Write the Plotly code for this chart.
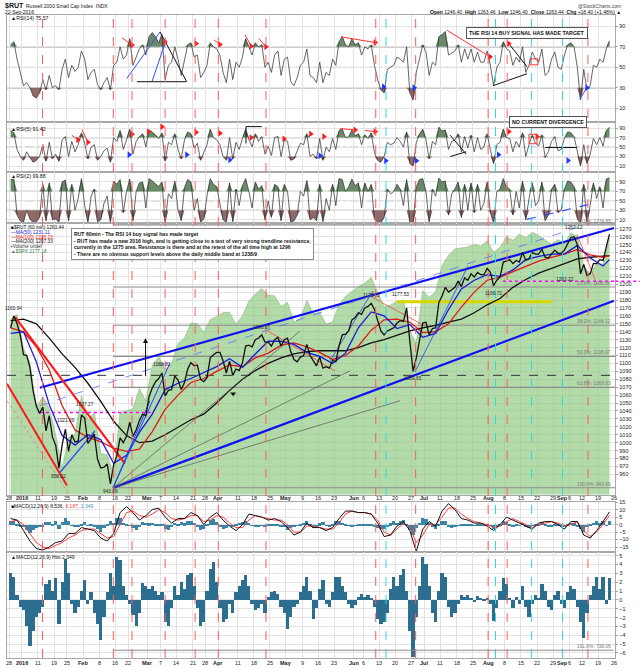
import plotly.graph_objects as go

W, H = 640, 668

# ---------------- data (x = trading-day index from 28-Dec-2015) ----------------
tick_days = [0, 4, 9, 14, 18, 23, 28, 33, 37, 43, 47, 52, 57, 61, 65, 71, 76, 81, 86, 91, 96, 101,
             107, 110, 115, 120, 125, 129, 134, 139, 144, 149, 154, 159, 164, 169, 172, 174, 178, 183, 188]
tick_labels = ["28", "2016", "11", "19", "25", "Feb", "8", "16", "22", "Mar", "7", "14", "21", "28",
               "Apr", "11", "18", "25", "May", "9", "16", "23", "Jun", "6", "13", "20", "27", "Jul",
               "11", "18", "25", "Aug", "8", "15", "22", "29", "Sep", "6", "12", "19", "26"]
bold_labels = {"2016", "Feb", "Mar", "Apr", "May", "Jun", "Jul", "Aug", "Sep"}

rut_close = [1145, 1160, 1150, 1136, 1111, 1110, 1095, 1065, 1046, 1037,
             1045, 1015, 1034, 1007, 997, 968, 997, 1017, 989, 1010,
             1001, 1002, 1035, 1031, 999, 1005, 1011, 979, 968, 969,
             973, 948, 972, 983, 1006, 1000, 1008, 1026, 1008, 1016,
             1028, 1036, 1034, 1058, 1069, 1077, 1081, 1088, 1059, 1066,
             1067, 1084, 1079, 1067, 1076, 1093, 1101, 1097, 1098, 1080,
             1077, 1082, 1107, 1111, 1114, 1114, 1103, 1088, 1103, 1085,
             1093, 1091, 1101, 1122, 1123, 1121, 1130, 1132, 1136, 1127,
             1127, 1122, 1130, 1133, 1122, 1130, 1132, 1115, 1105, 1102,
             1108, 1110, 1124, 1110, 1104, 1097, 1108, 1094, 1096, 1094,
             1104, 1102, 1122, 1136, 1137, 1141, 1155, 1158, 1164, 1162,
             1170, 1172, 1176, 1168, 1154, 1141, 1136, 1141, 1143, 1145,
             1151, 1154, 1153, 1170, 1127, 1090, 1107, 1130, 1151, 1152,
             1136, 1144, 1145, 1177, 1185, 1196, 1190, 1193, 1196, 1204,
             1197, 1208, 1205, 1213, 1209, 1215, 1212, 1212, 1220, 1215,
             1198, 1205, 1209, 1228, 1229, 1231, 1226, 1230, 1228, 1240,
             1230, 1232, 1240, 1238, 1238, 1244, 1234, 1233, 1238, 1243,
             1239, 1239, 1243, 1252, 1259, 1260, 1250, 1213, 1225, 1211,
             1213, 1226, 1226, 1231, 1230, 1247, 1263]

# $SPX overlay, every second trading day
spx_close = [2056, 2063, 2012, 1990, 1922, 1939, 1921, 1881, 1830, 1877,
             1882, 1940, 1903, 1915, 1853, 1851, 1820, 1915, 1917, 1921,
             1951, 1932, 1986, 1999, 1979, 1989, 2019, 2027, 2050, 2049,
             2036, 2055, 2060, 2066, 2066, 2048, 2061, 2083, 2094, 2102,
             2092, 2091, 2075, 2081, 2051, 2057, 2084, 2064, 2066, 2048,
             2052, 2077, 2090, 2097, 2105, 2110, 2119, 2096, 2075, 2077,
             2083, 2085, 2037, 2020, 2099, 2089, 2097, 2137, 2152, 2162,
             2163, 2165, 2169, 2166, 2174, 2157, 2164, 2180, 2175, 2184,
             2179, 2187, 2182, 2175, 2169, 2176, 2170, 2186, 2181, 2135,
             2125, 2139, 2139, 2177]

ma_days = [0, 4, 8, 12, 16, 20, 24, 28, 32, 36, 40, 44, 48, 52, 56, 60, 64, 68, 72, 76, 80, 84, 88, 92,
           96, 100, 104, 108, 112, 116, 120, 124, 128, 132, 136, 140, 144, 148, 152, 156, 160, 164, 168,
           172, 176, 180, 184, 186]
ma50 = [1138, 1140, 1102, 1048, 1009, 997, 1010, 1004, 974, 984, 1013, 1036, 1067, 1075, 1081, 1089,
        1096, 1106, 1095, 1112, 1128, 1128, 1124, 1114, 1109, 1100, 1113, 1145, 1165, 1160, 1144, 1149,
        1133, 1138, 1168, 1194, 1205, 1212, 1210, 1218, 1231, 1235, 1238, 1238, 1249, 1233, 1223, 1231]
ma100 = [1145, 1140, 1121, 1092, 1047, 1016, 1007, 1001, 993, 989, 992, 1014, 1042, 1060, 1076, 1081,
         1090, 1098, 1096, 1107, 1113, 1123, 1126, 1121, 1114, 1105, 1110, 1122, 1142, 1155, 1156, 1152,
         1139, 1140, 1150, 1171, 1190, 1205, 1209, 1216, 1222, 1229, 1234, 1238, 1244, 1237, 1234, 1236]
ma200 = [1154, 1156, 1150, 1132, 1112, 1095, 1075, 1052, 1027, 1009, 1000, 1002, 1010, 1019, 1029, 1036,
         1050, 1066, 1080, 1091, 1100, 1107, 1112, 1115, 1116, 1116, 1116, 1120, 1126, 1130, 1135, 1141,
         1145, 1148, 1152, 1156, 1164, 1174, 1182, 1196, 1206, 1214, 1220, 1226, 1232, 1234, 1235, 1236]

rsi14 = [72, 75, 58, 45, 32, 35, 30, 22, 20, 25,
         38, 28, 42, 30, 32, 28, 48, 58, 40, 52,
         46, 50, 66, 58, 38, 45, 48, 33, 28, 35,
         40, 28, 52, 55, 70, 58, 62, 78, 52, 60,
         68, 72, 62, 80, 84, 80, 74, 82, 38, 52,
         55, 70, 58, 42, 58, 72, 74, 60, 62, 40,
         45, 52, 74, 70, 68, 62, 45, 35, 58, 38,
         55, 50, 60, 78, 70, 62, 74, 70, 72, 50,
         55, 45, 62, 66, 42, 58, 60, 36, 32, 40,
         52, 55, 68, 42, 40, 35, 55, 35, 45, 42,
         58, 52, 75, 80, 72, 70, 78, 72, 74, 62,
         70, 68, 72, 52, 38, 28, 25, 48, 50, 52,
         60, 58, 55, 70, 25, 18, 45, 60, 72, 65,
         42, 55, 52, 80, 82, 85, 62, 64, 66, 72,
         55, 68, 58, 68, 55, 65, 55, 55, 66, 52,
         32, 50, 55, 75, 68, 66, 52, 60, 55, 70,
         45, 52, 65, 58, 55, 68, 42, 45, 58, 65,
         50, 48, 62, 72, 74, 70, 50, 18, 48, 28,
         32, 52, 50, 58, 55, 68, 76]

rsi5 = [85, 80, 45, 30, 22, 40, 28, 18, 22, 30,
        55, 20, 60, 25, 35, 20, 65, 72, 30, 62,
        40, 55, 80, 58, 25, 50, 55, 22, 30, 42,
        48, 18, 70, 62, 85, 45, 65, 88, 35, 62,
        72, 78, 50, 86, 82, 75, 68, 80, 20, 60,
        55, 78, 45, 25, 65, 82, 78, 48, 58, 22,
        40, 55, 88, 70, 65, 55, 30, 22, 70, 25,
        60, 45, 68, 88, 66, 50, 78, 62, 72, 35,
        52, 32, 70, 72, 30, 65, 62, 22, 25, 40,
        58, 55, 78, 30, 35, 25, 68, 22, 50, 40,
        68, 45, 85, 88, 70, 72, 86, 74, 78, 55,
        76, 68, 80, 38, 22, 18, 30, 60, 55, 58,
        70, 62, 50, 82, 15, 10, 60, 78, 88, 65,
        25, 62, 55, 92, 84, 86, 45, 62, 65, 78,
        40, 72, 48, 75, 40, 70, 45, 50, 78, 45,
        15, 55, 60, 88, 70, 68, 40, 62, 50, 80,
        30, 55, 75, 58, 52, 76, 28, 40, 62, 72,
        42, 45, 68, 82, 80, 72, 38, 10, 55, 15,
        35, 68, 55, 70, 52, 85, 92]

rsi2 = [95, 96, 20, 8, 5, 30, 12, 4, 6, 15,
        85, 8, 88, 10, 12, 5, 90, 94, 8, 85,
        30, 55, 97, 40, 5, 60, 75, 6, 10, 45,
        60, 4, 92, 85, 95, 25, 70, 96, 8, 70,
        88, 90, 35, 97, 92, 85, 80, 90, 3, 65,
        55, 92, 30, 8, 78, 95, 90, 30, 55, 5,
        12, 60, 97, 85, 80, 45, 10, 5, 88, 6,
        75, 40, 82, 97, 70, 35, 90, 75, 82, 10,
        50, 15, 85, 80, 8, 85, 70, 5, 8, 20,
        70, 60, 93, 10, 15, 8, 85, 6, 55, 30,
        85, 40, 97, 95, 70, 80, 96, 82, 88, 35,
        88, 70, 85, 12, 5, 4, 15, 75, 65, 70,
        85, 75, 40, 95, 3, 2, 80, 95, 97, 70,
        5, 75, 60, 98, 90, 92, 20, 65, 75, 90,
        15, 85, 30, 88, 25, 85, 30, 45, 90, 25,
        3, 70, 75, 97, 80, 75, 20, 70, 35, 92,
        10, 55, 88, 40, 50, 90, 8, 20, 75, 85,
        25, 30, 75, 92, 90, 80, 12, 2, 85, 5,
        40, 88, 55, 80, 35, 96, 99]

# MACD line / signal, every second trading day
macd_line = [4, 3, -4, -11, -16, -17, -15, -12, -11, -6,
             -6, -2, -3, -4, -9, -11, -6, 8, 12, 8,
             3, 6, 10, 11, 5, 1, 4, 4, 8, 6,
             0, 5, 8, 3, -1, -4, 0, 7, 6, 5,
             3, 4, 2, -2, -7, -5, 1, -2, -2, -4,
             -2, 4, 9, 9, 8, 8, 7, 1, -8, -7,
             -1, 2, -4, -18, -3, 2, -1, 9, 14, 10,
             4, 3, 1, 1, -1, -4, 0, 5, 3, 1,
             -1, -3, 1, 2, 2, 0, -3, 2, 2, -7,
             -9, -4, 2, 8.5]
macd_signal = [2, 3, 0, -6, -12, -15, -16, -14, -12, -9,
               -7, -4, -3, -3, -6, -9, -8, 0, 8, 9,
               6, 5, 7, 10, 8, 4, 3, 4, 6, 6,
               2, 3, 6, 5, 1, -2, -2, 3, 6, 5,
               4, 3, 3, 0, -5, -5, -1, -1, -2, -3,
               -3, 1, 7, 9, 8, 8, 7, 3, -5, -7,
               -3, 1, -2, -12, -7, 0, 0, 5, 11, 11,
               7, 4, 2, 1, 0, -2, -1, 2, 4, 2,
               0, -2, 0, 1, 2, 1, -1, 0, 2, -4,
               -8, -5, 0, 6.2]
macd_hist = [3.0, 2.5, 0.5, -0.8, -1.2, -3.0, -5.3, -3.5, -2.0, -1.5,
             -0.8, 1.8, 2.2, 1.0, 2.4, -2.8, 2.0, 4.6, 3.0, -0.5,
             -1.5, -0.8, 1.0, 2.2, -0.5, 0.8, -1.5, -2.8, -4.6, -2.0,
             0.8, 3.0, 1.5, 4.8, 4.5, 1.5, 0.5, -0.5, -1.8, -3.0,
             -1.5, 1.9, 1.5, 1.2, 1.5, 1.0, 0.5, 0.8, -2.5, -3.0,
             -1.0, 1.5, 0.5, 2.0, 1.2, 2.8, 3.0, 1.5, -1.0, -3.0,
             -2.5, 1.0, 3.5, 4.2, 2.0, -1.0, -2.5, -2.2, -0.5, -1.5,
             0.8, 1.5, 2.2, 2.8, 1.5, -0.5, -1.2, -1.0, -0.5, -1.5,
             0.3, 0.8, 1.0, 0.6, -0.8, -1.5, -3.3, -2.0, -0.8, -0.5,
             0.8, 1.5, 2.5, 1.0, -2.2, -1.0, 1.2, 2.2, -0.5, -0.8,
             0.8, 2.6, 2.5, 1.5, 0.8, -0.5, -1.0, -0.6, 0.3, 0.6,
             0.3, 0.5, 0.2, -0.8, -2.2, -2.8, -2.5, -1.5, 1.2, 2.5,
             1.5, 2.8, 3.5, 1.0, -3.5, -6.5, -2.0, 1.5, 4.8, 4.0,
             1.5, -1.5, -2.5, 1.0, 3.0, 2.5, -0.8, -2.0, -1.5, -0.5,
             0.5, 0.3, 0.5, 0.2, -0.3, 0.4, 0.2, -0.2, 0.1, -0.5,
             -2.4, -1.0, 1.0, 2.4, 1.8, 0.2, -1.0, 0.3, -0.5, 1.5,
             -0.8, -2.0, -0.5, 0.5, 0.2, 1.8, 1.0, -0.8, -1.2, 0.5,
             1.0, -0.5, -1.0, 0.8, 1.5, 1.2, -0.8, -2.5, -4.4, -1.5,
             0.5, 1.5, 2.5, 1.2, 2.5, -0.5, 2.4]

red_vlines = [10.4, 32.4, 38.2, 48.5, 57.8, 65.0, 79.8, 113.9, 126.3, 148.8, 154.7, 179.8]
cyan_vlines = [117.1, 151.1, 162.3, 171.9]

fib_names = ["0.0%", "23.6%", "38.2%", "50.0%", "61.8%", "100.0%", "161.8%"]
fib_levels = [1274.85, 1196.56, 1148.12, 1108.97, 1069.83, 943.09, 738.06]
fib_start_day = 32.3

# chartist trendlines on the price panel: (day0, price0, day1, price1, colour, width, dash)
main_lines = [
    (9.6, 1069.3, 187.9, 1270.9, "#1010f0", 2.2, "solid"),
    (32.3, 943.0, 187.9, 1179.0, "#1010f0", 2.2, "solid"),
    (9.6, 1046.8, 180.4, 1276.8, "#5570ff", 0.8, "dash"),
    (1.9, 1158.5, 36.0, 973.6, "#ff1a1a", 2.2, "solid"),
    (-0.6, 1074.3, 18.0, 946.0, "#ff1a1a", 2.0, "solid"),
    (-0.6, 1052.9, 18.9, 933.4, "#ff7070", 0.8, "dot"),
    (15.8, 962.3, 26.7, 1015.0, "#2040ff", 1.3, "solid"),
    (32.3, 943.0, 50.0, 1100.7, "#2040ff", 1.0, "solid"),
    (32.3, 943.0, 43.8, 1052.9, "#2040ff", 1.0, "solid"),
    (32.3, 943.0, 90.4, 1140.9, "#555555", 0.7, "solid"),
    (32.3, 943.0, 105.9, 1090.7, "#555555", 0.7, "solid"),
    (32.3, 943.0, 121.4, 1052.9, "#555555", 0.7, "solid"),
    (80.4, 1140.9, 101.2, 1090.7, "#ff4040", 0.8, "solid"),
    (112.7, 1183.7, 129.2, 1147.2, "#ff4040", 0.8, "solid"),
    (176.4, 1262.9, 182.6, 1200.0, "#ff4040", 0.8, "solid"),
    (126.1, 1089.3, 142.5, 1222.6, "#2040ff", 0.8, "solid"),
    (99.7, 1103.3, 113.0, 1191.3, "#2040ff", 0.8, "solid"),
]
# horizontal levels: (day0, day1, price, colour, width, dash)
main_levels = [
    (-0.6, 187.9, 1085.0, "#333333", 1.0, "dash"),
    (9.6, 44.4, 1038.2, "#ff00ff", 1.5, "dot"),
    (120.5, 168.6, 1177.8, "#d8d800", 3.0, "solid"),
]
magenta_level_sep = (153.4, 1203.8)

price_labels = [  # (day, price, text, position)
    (1.5, 1160.9, "1160.94", "above"), (15.5, 965, "958.02", "below"), (17.8, 1020, "1021.09", "above"),
    (23.5, 1040, "1037.27", "above"), (31.5, 946, "943.09", "below"), (47.5, 1090, "1088.31", "above"),
    (78.5, 1137, "1136.87", "above"), (112.5, 1178, "1178.72", "above"), (125.5, 1089, "1089.65", "below"),
    (121.5, 1179, "1177.53", "above"), (150.5, 1197, "1199.72", "below"), (175.5, 1263, "1263.12", "above"),
    (176.0, 1206, "1203.22", "left"),
]

rsi14_red_marks = [(38.2, 71.7), (48.4, 74.9), (58.1, 73.2), (65.5, 72.2), (75.2, 70.7), (79.8, 70),
                   (113.7, 74.2), (149.4, 60.2), (155.2, 73.2)]
rsi14_blue_marks = [(116.3, 31), (125.8, 30), (179.5, 30)]
rsi14_segments = [
    (35.1, 78.8, 38.2, 71.7, "#ff3030"), (36.6, 39.1, 46.9, 84.6, "#3050ff"),
    (44.4, 35.9, 48.8, 76.8, "#3050ff"), (46.9, 84.6, 55.2, 35.9, "#111111"),
    (39.7, 35.9, 55.0, 35.9, "#111111"), (63.7, 76.8, 65.5, 72.2, "#ff3030"),
    (73.3, 81.7, 75.2, 71.0, "#ff3030"), (77.6, 78.1, 79.8, 70.0, "#ff3030"),
    (103.1, 79.8, 113.7, 74.2, "#ff3030"), (136.0, 86.3, 149.4, 60.2, "#ff3030"),
    (155.2, 73.2, 160.9, 50.5, "#111111"), (150.3, 32.0, 160.9, 43.7, "#111111"),
    (177.3, 19.3, 179.5, 30.0, "#3050ff"),
]
rsi5_red_marks = [(21.4, 65.2), (24.5, 60.1), (38.2, 76.9), (43.3, 82.6), (47.5, 93), (58.1, 81.2),
                  (65.5, 79), (75.2, 70), (85.4, 67.3), (93.7, 77.8), (97.8, 72.1), (107.5, 86.2),
                  (113.7, 82.6), (155.2, 82.6), (164, 72.1)]
rsi5_blue_marks = [(37.3, 33.6), (55.2, 33.6), (68.6, 23), (96.6, 31.5), (117, 21), (126.5, 21),
                   (152, 33.6), (173.6, 21.6)]
rsi5_segments = [
    (22.7, 86.8, 24.5, 60.1, "#ff3030"), (19.5, 75, 21.4, 65.2, "#ff3030"),
    (102.8, 88.9, 107.5, 86.2, "#ff3030"), (110.5, 85, 113.7, 82.6, "#ff3030"),
    (73.6, 93.2, 78.5, 93.2, "#111111"), (73.6, 93.2, 73.6, 57.4, "#111111"),
    (166.5, 49, 176.4, 49, "#111111"), (137, 75, 142, 35, "#111111"), (137, 30, 142, 40, "#111111"),
]
rsi2_segments = [(160.9, 11, 181.4, 44.7, "#3050ff")]

# ---------------- geometry (pixels of the 640x668 page) ----------------
X0, X1 = 7, 615.3
XR = [-0.62, 188.3]


def py(v):
    return 1 - v / H


def dom(top, bot):
    return [py(bot), py(top)]


P_TOP, P_BOT = 222, 494
PR = [934.6, 1276.8]
SPXR = [1790.9, 2200.6]
panels = {
    1: dict(d=dom(12.7, 120.7), r=[-3.85, 101.5], tv=[10, 30, 50, 70, 90]),
    2: dict(d=dom(120.7, 170.7), r=[-3.05, 102.2], tv=[10, 30, 50, 70, 90]),
    3: dict(d=dom(170.7, 222), r=[2.6, 110.6], tv=[10, 30, 50, 70, 90]),
    4: dict(d=dom(P_TOP, P_BOT), r=SPXR, tv=[]),
    5: dict(d=dom(501, 551.5), r=[-18.2, 15.4], tv=[-15, -10, -5, 0, 5, 10, 15]),
    6: dict(d=dom(552, 658), r=[-6.57, 5.37], tv=[-6, -5, -4, -3, -2, -1, 0, 1, 2, 3, 4, 5]),
}
DATE_ROWS = (497.5, 663.0)   # pixel rows of the two date-label lines

GRID = "#e3e3e3"
FRAME = "#a8a8a8"
FONT = "Liberation Sans, Arial, sans-serif"


def xa(i):
    return "x" if i == 1 else f"x{i}"


def ya(i):
    return "y" if i == 1 else f"y{i}"


fig = go.Figure()


def add_line(xs, ys, color, width, ax, yax=None, dash="solid", **kw):
    fig.add_trace(go.Scatter(x=xs, y=ys, mode="lines", line=dict(color=color, width=width, dash=dash),
                             xaxis=xa(ax), yaxis=yax or ya(ax), hoverinfo="skip", **kw))


# ---------------- RSI panels ----------------
for ax, vals in ((1, rsi14), (2, rsi5), (3, rsi2)):
    xs = [i + 0.5 for i in range(len(vals))]
    add_line(xs, [70] * len(xs), "rgba(0,0,0,0)", 0, ax)
    add_line(xs, [max(v, 70) for v in vals], "rgba(0,0,0,0)", 0, ax, fill="tonexty",
             fillcolor="rgba(92,128,92,0.92)")
    add_line(xs, [30] * len(xs), "rgba(0,0,0,0)", 0, ax)
    add_line(xs, [min(v, 30) for v in vals], "rgba(0,0,0,0)", 0, ax, fill="tonexty",
             fillcolor="rgba(135,92,92,0.92)")
    add_line(xs, vals, "#333333", 0.75, ax)

for ax, segs in ((1, rsi14_segments), (2, rsi5_segments), (3, rsi2_segments)):
    for d0, v0, d1, v1, c in segs:
        add_line([d0, d1], [v0, v1], c, 1.0 if ax != 3 else 1.2, ax, dash="solid" if ax != 3 else "dash")

for ax, reds, blues in ((1, rsi14_red_marks, rsi14_blue_marks), (2, rsi5_red_marks, rsi5_blue_marks)):
    fig.add_trace(go.Scatter(x=[m[0] for m in reds], y=[m[1] for m in reds], mode="markers",
                             marker=dict(symbol="triangle-right", size=6, color="#ff1a1a"),
                             xaxis=xa(ax), yaxis=ya(ax), hoverinfo="skip"))
    fig.add_trace(go.Scatter(x=[m[0] for m in blues], y=[m[1] for m in blues], mode="markers",
                             marker=dict(symbol="triangle-right", size=6, color="#1a3aff"),
                             xaxis=xa(ax), yaxis=ya(ax), hoverinfo="skip"))

# ---------------- price panel ----------------
spx_x = [2 * i + 0.5 for i in range(len(spx_close))]
fig.add_trace(go.Scatter(x=spx_x, y=spx_close, mode="lines", fill="tozeroy",
                         line=dict(color="rgba(120,180,110,0.9)", width=0.6),
                         fillcolor="rgba(140,200,126,0.66)", xaxis="x4", yaxis="y4", hoverinfo="skip"))

for d0, d1, p, c, w, dash in main_levels:
    add_line([d0, d1], [p, p], c, w, 4, yax="y7", dash=dash)
for name, lvl in zip(fib_names, fib_levels):
    if PR[0] <= lvl <= PR[1]:
        add_line([fib_start_day, XR[1]], [lvl, lvl], "#8c8c8c", 1.1, 4, yax="y7")

ma_x = [d + 0.5 for d in ma_days]
add_line(ma_x, ma200, "#111111", 1.3, 4, yax="y7")
add_line(ma_x, ma100, "#e01818", 1.3, 4, yax="y7")
add_line(ma_x, ma50, "#1818d8", 1.3, 4, yax="y7")

for d0, p0, d1, p1, c, w, dash in main_lines:
    add_line([d0, d1], [p0, p1], c, w, 4, yax="y7", dash=dash)

px_x = [i + 0.5 for i in range(len(rut_close))]
add_line(px_x, rut_close, "#111111", 1.3, 4, yax="y7")

fig.add_trace(go.Scatter(x=[69.6], y=[1061.8], mode="markers",
                         marker=dict(symbol="triangle-down", size=5, color="#111"),
                         xaxis="x4", yaxis="y7", hoverinfo="skip"))

# ---------------- MACD panels ----------------
hx = [i + 0.5 for i in range(len(macd_hist))]
fig.add_trace(go.Bar(x=hx, y=macd_hist, width=1.0, marker=dict(color="#3a84a6", line=dict(width=0)),
                     xaxis="x5", yaxis="y5", hoverinfo="skip"))
mx = [2 * i + 0.5 for i in range(len(macd_line))]
add_line(mx, macd_signal, "#ff3b3b", 1.0, 5)
add_line(mx, macd_line, "#111111", 1.0, 5)
fig.add_trace(go.Bar(x=hx, y=macd_hist, width=1.0, marker=dict(color="#2c6e8f", line=dict(width=0)),
                     xaxis="x6", yaxis="y6", hoverinfo="skip"))

# ---------------- axes ----------------
layout = {}
for i, pnl in panels.items():
    layout["xaxis" if i == 1 else f"xaxis{i}"] = dict(
        domain=[X0 / W, X1 / W], range=XR, anchor=ya(i), tickvals=tick_days, ticktext=tick_labels,
        showticklabels=False, showgrid=True, gridcolor=GRID, gridwidth=0.7, showline=True,
        linecolor=FRAME, linewidth=0.8, mirror=True, zeroline=False, ticks="", fixedrange=True)
    if i == 4:
        layout["yaxis4"] = dict(domain=pnl["d"], range=pnl["r"], visible=False, anchor="x4", fixedrange=True)
    else:
        layout["yaxis" if i == 1 else f"yaxis{i}"] = dict(
            domain=pnl["d"], range=pnl["r"], anchor=xa(i), side="right", tickvals=pnl["tv"],
            showgrid=True, gridcolor=GRID, gridwidth=0.7, showline=True, linecolor=FRAME, linewidth=0.8,
            mirror=True, zeroline=False, ticks="outside", ticklen=2, tickcolor=FRAME,
            tickfont=dict(size=5.5, color="#222", family=FONT), fixedrange=True)
layout["yaxis7"] = dict(
    overlaying="y4", anchor="x4", side="right", range=PR, tickvals=list(range(960, 1271, 10)),
    showgrid=True, gridcolor=GRID, gridwidth=0.7, showline=True, linecolor=FRAME, linewidth=0.8,
    mirror=True, zeroline=False, ticks="outside", ticklen=2, tickcolor=FRAME,
    tickfont=dict(size=5.5, color="#222", family=FONT), fixedrange=True)

# ---------------- shapes ----------------
shapes = []
for ax in (1, 2, 3):
    xr = f"{xa(ax)} domain"
    for lvl, col, w, dash in ((70, "#9a9a9a", 1.3, "solid"), (30, "#9a9a9a", 1.3, "solid"),
                              (50, "#9a9a9a", 0.8, "dashdot")):
        shapes.append(dict(type="line", xref=xr, yref=ya(ax), x0=0, x1=1, y0=lvl, y1=lvl,
                           line=dict(color=col, width=w, dash=dash), layer="below"))
shapes.append(dict(type="line", xref="x5 domain", yref="y5", x0=0, x1=1, y0=0, y1=0,
                   line=dict(color="#9a9a9a", width=0.8), layer="below"))
for d in red_vlines:
    shapes.append(dict(type="line", xref="x", yref="paper", x0=d, x1=d, y0=py(658), y1=py(12.7),
                       line=dict(color="#ff5a5a", width=1, dash="dash")))
for d in cyan_vlines:
    shapes.append(dict(type="line", xref="x", yref="paper", x0=d, x1=d, y0=py(658), y1=py(12.7),
                       line=dict(color="#30d8e0", width=1, dash="dash")))
shapes.append(dict(type="line", xref="x4", yref="y7", x0=magenta_level_sep[0], x1=XR[1],
                   y0=magenta_level_sep[1], y1=magenta_level_sep[1],
                   line=dict(color="#ff00ff", width=1.5, dash="dot")))
shapes.append(dict(type="line", xref="paper", yref="y7", x0=X1 / W, x1=1.0,
                   y0=magenta_level_sep[1], y1=magenta_level_sep[1],
                   line=dict(color="#ff00ff", width=1.5, dash="dot")))
# red boxes on RSI panels
shapes.append(dict(type="rect", xref="x", yref="y", x0=161.8, x1=164.3, y0=52.4, y1=58.3,
                   line=dict(color="#ff3030", width=1)))
shapes.append(dict(type="rect", xref="x2", yref="y2", x0=161.5, x1=164.0, y0=57, y1=77,
                   line=dict(color="#ff3030", width=1)))

# Fib extension that lands below the price panel (161.8%)
main_d = panels[4]["d"]


def price_to_paper(p):
    return main_d[0] + (p - PR[0]) / (PR[1] - PR[0]) * (main_d[1] - main_d[0])


for name, lvl in zip(fib_names, fib_levels):
    if lvl < PR[0]:
        shapes.append(dict(type="line", xref="x6", yref="paper", x0=fib_start_day, x1=XR[1] - 0.6,
                           y0=price_to_paper(lvl), y1=price_to_paper(lvl),
                           line=dict(color="#8c8c8c", width=1.1)))

# ---------------- annotations ----------------
ann = []


def A(text, x, y, size=5.5, color="#111", xanchor="left", yanchor="middle", **kw):
    ann.append(dict(text=text, x=x / W, y=py(y), xref="paper", yref="paper", showarrow=False,
                    xanchor=xanchor, yanchor=yanchor, font=dict(size=size, color=color, family=FONT), **kw))


# date labels under the price panel and under the histogram panel
for row, xref in zip(DATE_ROWS, ("x4", "x6")):
    for d, t in zip(tick_days, tick_labels):
        ann.append(dict(text=f"<b>{t}</b>" if t in bold_labels else t, x=d, y=py(row), xref=xref,
                        yref="paper", showarrow=False, xanchor="center", yanchor="middle", borderpad=0,
                        font=dict(size=5.5, color="#222", family=FONT)))

A("<b>$RUT</b>", 3, 4.5, size=7)
A("Russell 2000 Small Cap Index  INDX", 24, 4.5, size=5)
A("22-Sep-2016", 3, 10.5, size=5)
A("@StockCharts.com", 623, 4.5, size=5, xanchor="right", color="#444")
A("<b>Open</b> 1246.40  <b>High</b> 1263.46  <b>Low</b> 1246.40  <b>Close</b> 1263.44  "
  "<b>Chg</b> +18.40 (+1.48%) ▲", 623, 10.5, size=5, xanchor="right")
A("▲RSI(14) 75.57", 9, 16, size=5.2)
A("▲RSI(5) 91.42", 9, 127, size=5.2)
A("▲RSI(2) 99.88", 9, 175, size=5.2)
A("■$RUT (60 min) 1263.44", 9, 226.5, size=4.8)
A("—MA(50) 1231.11", 9, 231.3, size=4.8, color="#1818d8")
A("—MA(100) 1226.23", 9, 236, size=4.8, color="#e01818")
A("—MA(200) 1207.33", 9, 240.7, size=4.8, color="#111")
A("▪Volume undef", 9, 245.4, size=4.8, color="#333")
A("▲$SPX 2177.18", 9, 250.1, size=4.8, color="#3a7a3a")
A("■MACD(12,26,9) 8.536, <span style='color:#ff3b3b'>6.187</span>, "
  "<span style='color:#3a9ac6'>2.349</span>", 9, 505.5, size=5)
A("▲MACD(12,26,9) Hist 2.349", 9, 556.5, size=5)

A("<b>RUT 60min - The RSI 14 buy signal has made target<br>"
  "- RUT has made a new 2016 high, and is getting close to a test of very strong trendline resistance,<br>"
  "currently in the 1275 area. Resistance is there and at the retest of the all time high at 1296<br>"
  "- There are no obvious support levels above the daily middle band at 1238/9</b>",
  71, 227, size=5.1, yanchor="top", align="left", bgcolor="white", bordercolor="#8a8a8a",
  borderwidth=1, borderpad=2)
A("<b>THE RSI 14 BUY SIGNAL HAS MADE TARGET</b>", 527, 31.5, size=5.3, xanchor="center",
  bgcolor="white", bordercolor="#555", borderwidth=1, borderpad=2)
A("<b>NO CURRENT DIVERGENCE</b>", 547.5, 120, size=5.3, xanchor="center",
  bgcolor="white", bordercolor="#555", borderwidth=1, borderpad=2)

for name, lvl in zip(fib_names, fib_levels):
    txt = f"{name}: {lvl:.2f}"
    if lvl >= PR[0]:
        ann.append(dict(text=txt, x=187.6, y=lvl, xref="x4", yref="y7", showarrow=False, xanchor="right",
                        yanchor="bottom", yshift=-1, font=dict(size=4.8, color="#777", family=FONT)))
    else:
        ann.append(dict(text=txt, x=187.6, y=price_to_paper(lvl), xref="x6", yref="paper", showarrow=False,
                        xanchor="right", yanchor="bottom", yshift=-1,
                        font=dict(size=4.8, color="#777", family=FONT)))

for d, p, txt, pos in price_labels:
    if pos == "left":
        ann.append(dict(text=txt, x=d, y=p, xref="x4", yref="y7", showarrow=False, xanchor="right",
                        yanchor="middle", font=dict(size=4.8, color="#222", family=FONT)))
    else:
        above = pos == "above"
        ann.append(dict(text=txt, x=d, y=p, xref="x4", yref="y7", showarrow=False, xanchor="center",
                        yanchor="bottom" if above else "top", yshift=2 if above else -2,
                        font=dict(size=4.8, color="#222", family=FONT)))

ann.append(dict(text="", x=42.4, y=1132, ax=42.4, ay=1082, xref="x4", yref="y7", axref="x4", ayref="y7",
                showarrow=True, arrowhead=2, arrowsize=1, arrowwidth=1, arrowcolor="#111"))

fig.update_layout(
    width=W, height=H, margin=dict(l=0, r=0, t=0, b=0), paper_bgcolor="white", plot_bgcolor="white",
    showlegend=False, font=dict(family=FONT, size=6, color="#222"), bargap=0,
    shapes=shapes, annotations=ann, **layout)

# the page body gets no default margin, so the 640x668 figure fills the window exactly
fig.write_html("out.html", config={"displayModeBar": False},
               post_script="document.body.style.margin='0';document.body.style.overflow='hidden';")
